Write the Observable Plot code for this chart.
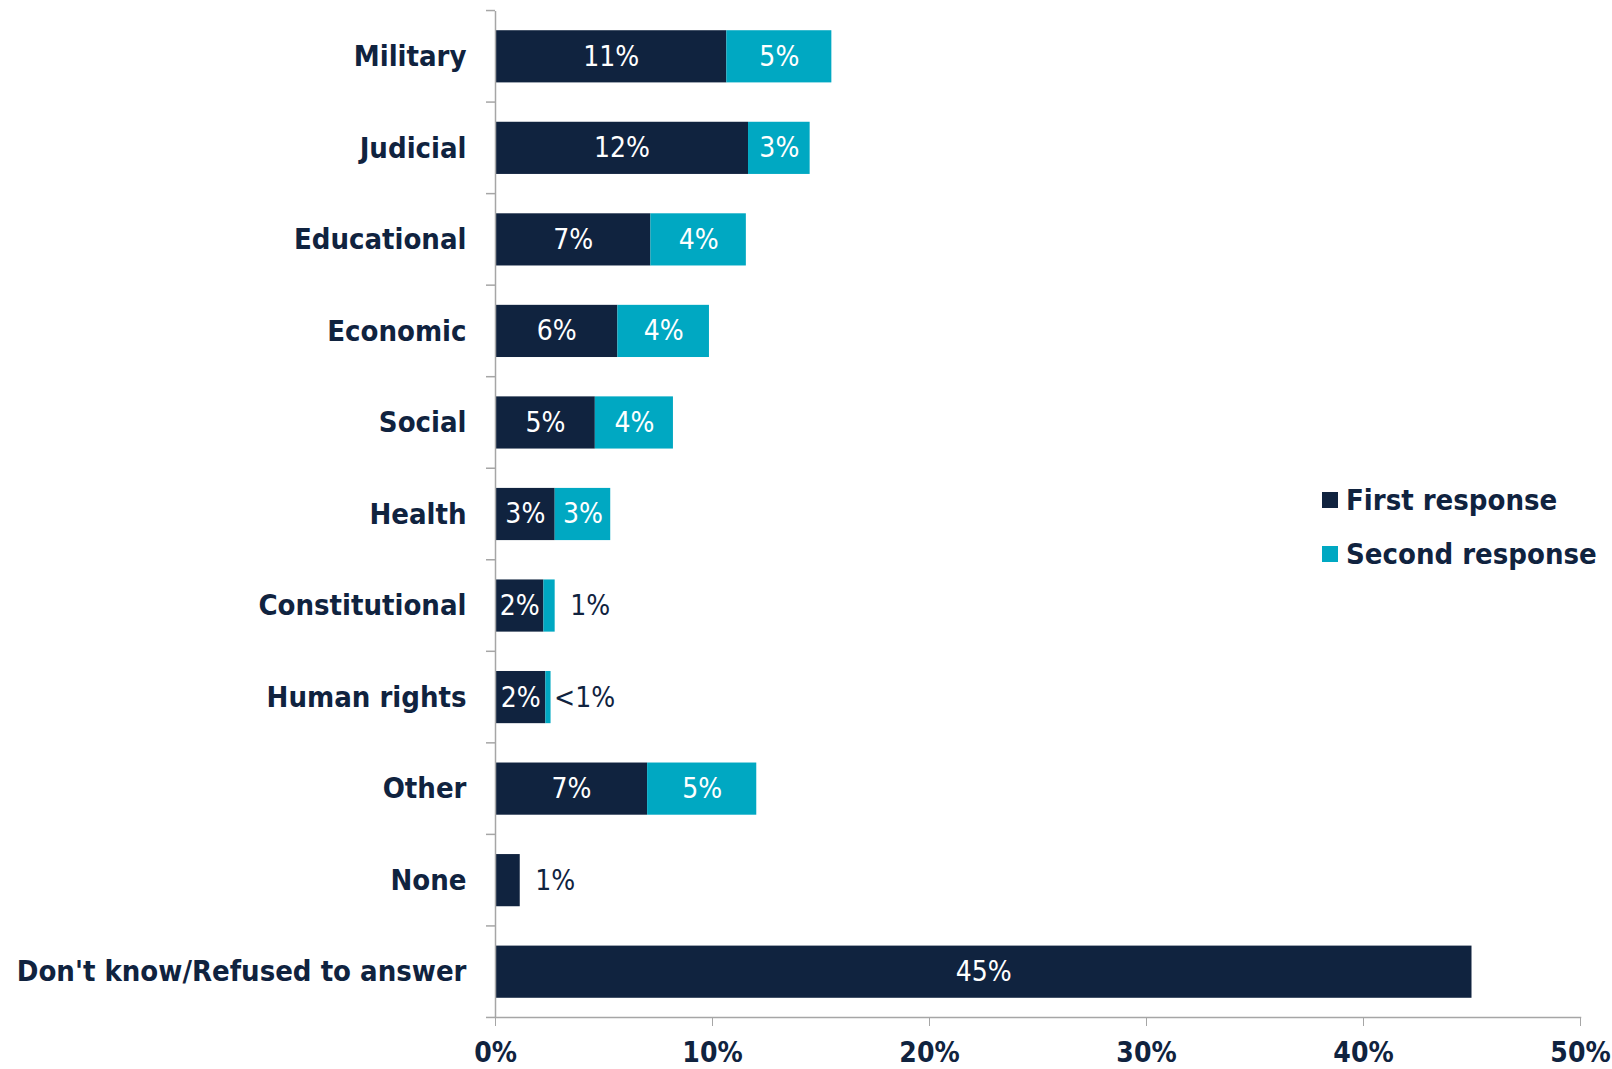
<!DOCTYPE html>
<html>
<head>
<meta charset="utf-8">
<script src="https://cdn.jsdelivr.net/npm/d3@7"></script>
<script src="https://cdn.jsdelivr.net/npm/@observablehq/plot@0.6"></script>
<style>
  html, body { margin: 0; padding: 0; background: #fff; }
  #wrap { position: relative; width: 1612px; height: 1069px; font-family: "DejaVu Sans Condensed", "DejaVu Sans", sans-serif; }
  #legend { position: absolute; left: 1322px; top: 482px; color: #10233f; font-weight: bold; font-size: 29px; }
  #legend div { display: flex; align-items: center; height: 36px; margin-bottom: 18px; }
  #legend span.sw { display: inline-block; width: 16px; height: 16px; margin-right: 8px; }
</style>
</head>
<body>
<div id="wrap"><div id="chart"></div>
<div id="legend"></div></div>
<script>
const categories = ["Military", "Judicial", "Educational", "Economic", "Social", "Health", "Constitutional", "Human rights", "Other", "None", "Don't know/Refused to answer"];
const firstResponse = [10.66, 11.66, 7.16, 5.64, 4.6, 2.75, 2.23, 2.32, 7.01, 1.14, 45.0];
const secondResponse = [4.84, 2.84, 4.4, 4.22, 3.6, 2.56, 0.52, 0.24, 5.03, 0, 0];
const seriesNames = ["First response", "Second response"];
const seriesColors = ["#10233f", "#00a8c2"];
const xTicks = [0, 10, 20, 30, 40, 50];

const navy = "#10233f";
const grey = "#a6a6a6";
const fmt = v => v < 0.5 ? "<1%" : Math.round(v) + "%";

const rows = [];
categories.forEach((c, i) => {
  const vals = [firstResponse[i], secondResponse[i]];
  let x1 = 0;
  vals.forEach((v, j) => {
    if (v > 0) rows.push({category: c, series: seriesNames[j], value: v, x1, x2: x1 + v, mid: x1 + v / 2, label: fmt(v)});
    x1 += v;
  });
});
const inside = rows.filter(d => d.value >= 2);
const outside = rows.filter(d => d.value < 2 && !d.label.startsWith("<"));
const outsideLt = rows.filter(d => d.value < 2 && d.label.startsWith("<"));

const boundaryTicks = (index, scales, values, dims) => {
  const y = scales.y;
  const bw = y.bandwidth();
  const step = y(categories[1]) - y(categories[0]);
  const x0 = scales.x(0);
  const g = d3.create("svg:g").attr("stroke", grey).attr("stroke-width", 1.5);
  const ys = categories.map(c => y(c) - (step - bw) / 2);
  ys.push(y(categories[categories.length - 1]) + bw + (step - bw) / 2);
  ys.forEach(v => g.append("line").attr("x1", x0 - 9).attr("x2", x0).attr("y1", v).attr("y2", v));
  return g.node();
};

const chart = Plot.plot({
  width: 1612,
  height: 1069,
  marginTop: 11,
  marginBottom: 52,
  marginLeft: 495,
  marginRight: 32,
  style: {fontFamily: "'DejaVu Sans Condensed', 'DejaVu Sans', sans-serif", color: navy, background: "#fff"},
  x: {domain: [0, 50], ticks: xTicks},
  y: {domain: categories, paddingInner: 0.43, paddingOuter: 0.21, round: false},
  color: {domain: seriesNames, range: seriesColors},
  marks: [
    Plot.barX(rows, {y: "category", x1: "x1", x2: "x2", fill: "series"}),
    Plot.ruleX([0], {stroke: grey, strokeWidth: 1.5}),
    Plot.frame({anchor: "bottom", stroke: grey, strokeWidth: 1.5}),
    boundaryTicks,
    Plot.axisX({ticks: xTicks, tickFormat: d => d + "%", tickSize: 9, tickPadding: 16, stroke: grey, fontSize: 28, fontWeight: "bold", fill: navy, label: null}),
    Plot.axisY({tickSize: 0, tickPadding: 29, fontSize: 29, fontWeight: "bold", fill: navy, label: null}),
    Plot.text(inside, {x: "mid", y: "category", text: "label", fill: "white", fontSize: 28}),
    Plot.text(outside, {x: "x2", y: "category", text: "label", fill: navy, fontSize: 28, textAnchor: "start", dx: 15}),
    Plot.text(outsideLt, {x: "x2", y: "category", text: "label", fill: navy, fontSize: 28, textAnchor: "start", dx: 3})
  ]
});
document.getElementById("chart").appendChild(chart);

const legend = document.getElementById("legend");
seriesNames.forEach((n, i) => {
  const d = document.createElement("div");
  const s = document.createElement("span");
  s.className = "sw";
  s.style.background = seriesColors[i];
  d.appendChild(s);
  d.appendChild(document.createTextNode(n));
  legend.appendChild(d);
});
</script>
</body>
</html>
